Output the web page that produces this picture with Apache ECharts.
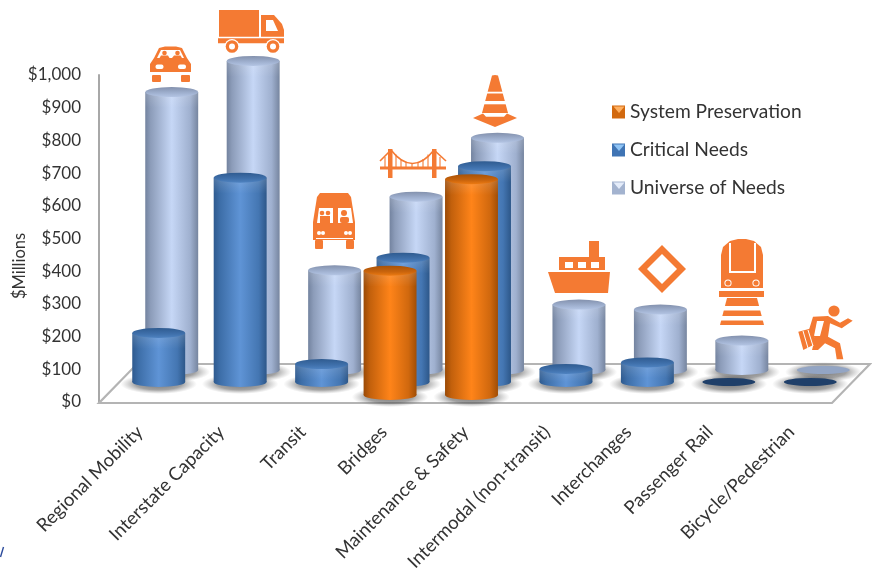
<!DOCTYPE html>
<html><head><meta charset="utf-8">
<style>html,body{margin:0;padding:0;background:#fff}#c{width:872px;height:574px}</style>
<script src="https://cdn.jsdelivr.net/npm/echarts@6/dist/echarts.min.js"></script>
</head><body><div id="c"></div>
<script>
const categories = ['Regional Mobility','Interstate Capacity','Transit','Bridges','Maintenance & Safety','Intermodal (non-transit)','Interchanges','Passenger Rail','Bicycle/Pedestrian'];
const systemPreservation = [null,null,null,380,660,null,null,null,null];
const criticalNeeds = [150,625,55,380,660,40,60,0,0];
const universeOfNeeds = [850,945,305,530,710,200,185,90,0];
const tickLabelFormat = v => '$' + (v >= 1000 ? '1,000' : v);
const FONT = 'Lato, "Open Sans", sans-serif';
const TXT = '#333';
const OR = '#F47A33';
const LG = (stops, x2, y2) => new echarts.graphic.LinearGradient(0,0,x2,y2,stops.map(s=>({offset:s[0],color:s[1]})));

const rows = {
  universe:{dx:32,dy:-32,flat:'#93a5c4',
    body:[[0,'#73839f'],[0.1,'#8c9cb9'],[0.5,'#c6d7f6'],[0.85,'#9fb0cf'],[1,'#76859f']],
    cap:[[0,'#8391ad'],[0.6,'#a0b1d0'],[1,'#b4c5e4']],legend:'#a3b3cf'},
  critical:{dx:19,dy:-20,flat:'#1f3f69',
    body:[[0,'#2e5a8f'],[0.12,'#3d6ea8'],[0.5,'#5f94d6'],[0.85,'#4476b2'],[1,'#2d5789']],
    cap:[[0,'#2f5b90'],[0.6,'#3f70ab'],[1,'#4e82c0']],legend:'#3f74b4'},
  preservation:{dx:6,dy:-7,flat:'#a84f05',
    body:[[0,'#9a4a06'],[0.12,'#c2600c'],[0.5,'#ff8419'],[0.85,'#d0680e'],[1,'#a04e06']],
    cap:[[0,'#a85207'],[0.6,'#c9640c'],[1,'#ec7a12']],legend:'#d2690f'}
};

function ell(cx,cy,rx,ry,fill,z2){
  return {type:'circle',shape:{cx:0,cy:0,r:1},x:cx,y:cy,scaleX:rx,scaleY:ry,style:{fill:fill},z2:z2||0,silent:true};
}
function cylinder(row){
  return function(params,api){
    const v = api.value(1);
    if (isNaN(v)) return null;
    const i = api.value(0);
    const p = api.coord([i,v]), b = api.coord([i,0]);
    const rx = api.size([1,0])[0]*0.325, ry = 5;
    const cx = p[0]+row.dx, top = p[1]+row.dy, base = b[1]+row.dy;
    if (v === 0) return {type:'group',children:[ell(cx,base,rx,4,row.flat)]};
    const body = LG(row.body,1,0);
    return {type:'group',children:[
      ell(cx,base,rx,ry,body),
      {type:'rect',shape:{x:cx-rx,y:top,width:2*rx,height:base-top},style:{fill:body},silent:true},
      {type:'rect',shape:{x:cx-rx,y:top,width:2*rx,height:Math.min(16,base-top)},style:{fill:LG([[0,'rgba(255,255,255,0.16)'],[1,'rgba(255,255,255,0)']],0,1)},silent:true},
      ell(cx,top,rx,ry,LG(row.cap,0,1))
    ]};
  };
}
function shadow(row){
  return function(params,api){
    const v = api.value(1);
    if (isNaN(v)) return null;
    const b = api.coord([api.value(0),0]);
    const rx = api.size([1,0])[0]*0.47;
    const fill = new echarts.graphic.RadialGradient(0.5,0.5,0.5,[{offset:0,color:'rgba(60,60,60,0.7)'},{offset:0.6,color:'rgba(70,70,70,0.5)'},{offset:1,color:'rgba(120,120,120,0)'}]);
    return ell(b[0]+row.dx,b[1]+row.dy+2,rx,10,fill);
  };
}
function floor(params,api){
  const s = params.coordSys;
  const left = s.x, right = s.x+s.width, front = s.y+s.height+1, back = front-39, d = 38;
  return {type:'polygon',shape:{points:[[left,front],[right,front],[right+d,back],[left+d,back]]},
    style:{fill:'#fff',stroke:'#b4b4b4',lineWidth:2.2},silent:true};
}
const toData = a => a.map((v,i)=>[i,v]).filter(d=>d[1]!==null);
const cylSeries = (name,vals,row,z)=>({name,type:'custom',renderItem:cylinder(row),data:toData(vals),encode:{x:0,y:1},z,clip:false,
  itemStyle:{color:LG(row.body,1,0)},animation:false,silent:true});
const shaSeries = (vals,row)=>({type:'custom',renderItem:shadow(row),data:toData(vals),encode:{x:0,y:1},z:2,clip:false,animation:false,silent:true});

/* ---- pictograms ---- */
const W = '#fff';
const R=(x,y,w,h,f,r)=>({type:'rect',shape:{x,y,width:w,height:h,r:r||0},style:{fill:f||OR},silent:true});
const C=(cx,cy,r,f)=>({type:'circle',shape:{cx,cy,r},style:{fill:f||OR},silent:true});
const P=(pts,f)=>({type:'polygon',z:20,shape:{points:pts},style:{fill:f||OR},silent:true});
const L=(x1,y1,x2,y2,w,c)=>({type:'line',shape:{x1,y1,x2,y2},style:{stroke:c||OR,lineWidth:w},silent:true});
const hangers=[396,401,406,412,418,423,428].map(x=>L(x,163-Math.pow(x-412,2)/30,x,167,1.1));
const icons = [
  // car
  P([[165,46.5],[176,46.5],[182,48],[187,58],[191,64],[191,72],[150,72],[150,64],[154,58],[159,48]]),
  P([[161,50],[180,50],[184,58],[157,58]],W),C(164.5,53,2.3),C(177.5,53,2.3),P([[159.5,58],[169.5,58],[168,55.5],[161,55.5]]),P([[172,58],[182,58],[180.5,55.5],[174,55.5]]),
  R(155.5,64.5,8,4.5,W,2),R(178,64.5,8,4.5,W,2),R(152,75,9,7,OR,1),R(181,75,9,7,OR,1),
  // truck
  R(219,10,40,26.7),P([[261,15],[274,15],[282,24],[284,30],[284,36.7],[261,36.7]]),P([[266,20],[273,20],[278,31],[266,31]],W),
  R(218,38.3,66,5),C(232,46.5,7.5,W),C(232,46.5,6.3),C(232,46.5,3,W),C(273,46.5,7.5,W),C(273,46.5,6.3),C(273,46.5,3,W),
  // bus
  P([[320,193],[348,193],[351,197],[355,222],[355,240],[313,240],[313,222],[317,197]]),
  R(315,240,8,9,OR,1),R(346,240,8,9,OR,1),
  P([[319,208],[333,208],[333,223],[317,223]],W),P([[338,208],[351,208],[353,223],[338,223]],W),
  C(322,213,2.3),C(328,213,2.3),R(320,216,10,7),C(344,213,3),R(340,217,9,6,OR,2),
  C(319,233,2,W),C(323,233,2,W),C(346,233,2,W),C(350,233,2,W),R(316,238,37,1,W),
  // bridge
  L(380,161,391,150,1.6),L(434,150,446,161,1.6),
  {type:'bezierCurve',shape:{x1:391,y1:150,x2:434,y2:150,cpx1:405,cpy1:168,cpx2:420,cpy2:168},style:{stroke:OR,lineWidth:1.6,fill:null},silent:true},
  ...hangers,L(385,157,385,167,1.1),L(440,157,440,167,1.1),
  R(388,149,4.5,29),R(432,149,4.5,29),R(380,166.5,66,3),
  // cone
  P([[495,75],[498,75.5],[508,113],[482,113],[492,75.5]]),R(480,91.7,30,1.8,W),R(480,101,30,3.3,W),
  P([[473,118],[483,113.5],[486,116.7],[504,116.7],[507,113.5],[517,118],[495,127]]),
  // ship
  P([[548,272],[610,272],[608,293],[555,293]]),R(559,257,46,13),R(589,241,10,16),R(565,262,8,6,W),R(578,262,8,6,W),R(591,262,8,6,W),
  // interchange diamond
  P([[662,245],[686,269],[662,293],[638,269]]),P([[662,254],[677,269],[662,284],[647,269]],W),
  // train
  P([[730,241],[738,239],[746,239],[754,241],[761,247],[763,255],[763,288],[721,288],[721,255],[723,247]]),
  R(729,243,2,29,W),R(754,243,2,29,W),R(729,271,27,2,W),C(728,283,3.6,W),C(728,283,2.6),C(756,283,3.6,W),C(756,283,2.6),
  R(719,291,45,6),P([[727,298],[757,298],[764,325],[720,325]]),R(720,306,44,4.5,W),R(720,316,44,4.5,W),
  // runner
  C(834,311,5.6),
  P([[813,316.7],[828,316],[840,322.7],[848,318.3],[852.7,320.7],[841.7,328.3],[830,323.3],[828,336.7],[840,343.3],[843.3,359.3],[836.7,359.3],[835,348.3],[825,343.3],[818,350],[812,350],[815,338],[808,333]]),
  P([[817,321],[824,321],[820,336],[814,336]],W),
  P([[798.3,331.7],[811.7,328.3],[816.7,343.3],[803.3,350]]),L(803,331,808,348,1,W),L(808,330,813,346,1,W)
];
icons.forEach(e=>{e.z=20;});
const legendTri = [[112,'#ffb060'],[150,'#8fc4f5'],[188,'#e4ecfa']].map(t=>P([[613.5,t[0]-5.5],[624.5,t[0]-5.5],[619,t[0]+1]],t[1]));

const option = {
  animation:false,
  backgroundColor:'#fff',
  textStyle:{fontFamily:FONT},
  grid:{left:99,right:40,top:75,bottom:172,containLabel:false},
  legend:{orient:'vertical',left:612,top:102,padding:0,itemWidth:13,itemHeight:13,itemGap:18,icon:'rect',selectedMode:false,
    textStyle:{fontFamily:FONT,fontSize:19.2,lineHeight:20,color:TXT},
    data:[{name:'System Preservation',itemStyle:{color:rows.preservation.legend}},{name:'Critical Needs',itemStyle:{color:rows.critical.legend}},{name:'Universe of Needs',itemStyle:{color:rows.universe.legend}}]},
  xAxis:{type:'category',data:categories,axisLine:{show:false},axisTick:{show:false},
    axisLabel:{rotate:45,interval:0,margin:27,fontFamily:FONT,fontSize:18.5,color:TXT}},
  yAxis:{type:'value',min:0,max:1000,interval:100,splitLine:{show:false},axisTick:{show:false},
    axisLine:{show:true,lineStyle:{color:'#a8a8a8',width:2}},
    axisLabel:{margin:18,fontFamily:FONT,fontSize:17,color:TXT,formatter:tickLabelFormat}},
  graphic:{elements:[
    {type:'text',x:20,y:266,rotation:Math.PI/2,style:{text:'$Millions',fill:TXT,font:'16.5px '+FONT,align:'center',verticalAlign:'middle'},silent:true},
    L(0.5,557,3.5,547,1.4,'#2b4a9b'),
    {type:'group',children:icons},
    {type:'group',children:legendTri}
  ]},
  series:[
    {type:'custom',renderItem:floor,data:[[0,0]],encode:{x:0,y:1},z:1,clip:false,silent:true},
    shaSeries(universeOfNeeds,rows.universe),
    shaSeries(criticalNeeds,rows.critical),
    shaSeries(systemPreservation,rows.preservation),
    cylSeries('System Preservation',systemPreservation,rows.preservation,5),
    cylSeries('Critical Needs',criticalNeeds,rows.critical,4),
    cylSeries('Universe of Needs',universeOfNeeds,rows.universe,3)
  ]
};
echarts.init(document.getElementById('c'),null,{renderer:'canvas'}).setOption(option);
</script></body></html>
